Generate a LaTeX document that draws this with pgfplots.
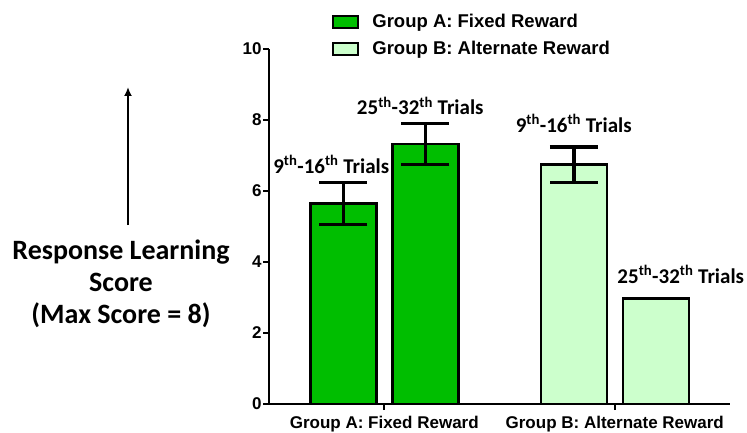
\documentclass[border=0pt]{standalone}
\usepackage{fontspec}
\setmainfont{Liberation Sans}
\newfontfamily\calfont{Carlito}
\usepackage{pgfplots}
\pgfplotsset{compat=1.18}
\usetikzlibrary{arrows.meta}
\definecolor{darkg}{RGB}{0,190,0}
\definecolor{lightg}{RGB}{204,255,204}
\begin{document}
\begin{tikzpicture}
\path[use as bounding box] (0,0) rectangle (747pt,432pt);
\begin{axis}[
  at={(269pt,28pt)}, anchor=south west,
  scale only axis, width=461pt, height=355pt,
  xmin=0.5, xmax=2.5, ymin=0, ymax=10,
  axis lines*=left,
  axis line style={line width=2pt},
  every tick/.style={black, line width=2pt},
  ytick={0,2,4,6,8,10},
  xtick={1,2},
  xticklabels={Group A: Fixed Reward, Group B: Alternate Reward},
  tick align=outside,
  major tick length=6pt,
  /pgf/number format/assume math mode=true,
  tick label style={font=\bfseries\fontsize{17}{17}\selectfont},
  yticklabel style={xshift=2pt},
  xticklabel style={yshift=-3pt},
  ybar, bar width=66pt,
  legend style={at={(0.13,1.11)}, anchor=north west, draw=none, fill=none,
    font=\bfseries\fontsize{18.5}{18.5}\selectfont, row sep=8pt,
    legend cell align=left},
  legend image code/.code={\draw[#1, line width=2pt] (0pt,-6pt) rectangle (25pt,6pt); \path (36pt,0pt);},
  clip=false,
]
\addplot[fill=darkg, draw=black, line width=2.5pt, bar shift=-41pt,
  error bars/.cd, y dir=both, y explicit,
  error bar style={line width=3.5pt, black},
  error mark options={rotate=90, line width=3.5pt, mark size=24pt, black}]
  coordinates {(1,5.65) +- (0,0.59)};
\addlegendentry{Group A: Fixed Reward}
\addplot[fill=lightg, draw=black, line width=2.5pt, bar shift=-41pt,
  error bars/.cd, y dir=both, y explicit,
  error bar style={line width=3.5pt, black},
  error mark options={rotate=90, line width=3.5pt, mark size=24pt, black}]
  coordinates {(2,6.74) +- (0,0.5)};
\addlegendentry{Group B: Alternate Reward}
\addplot[forget plot, fill=darkg, draw=black, line width=2.5pt, bar shift=41pt,
  error bars/.cd, y dir=both, y explicit,
  error bar style={line width=3.5pt, black},
  error mark options={rotate=90, line width=3.5pt, mark size=24pt, black}]
  coordinates {(1,7.32) +- (0,0.58)};
\addplot[forget plot, fill=lightg, draw=black, line width=2.5pt, bar shift=41pt]
  coordinates {(2,2.97)};
\node[anchor=base, font=\calfont\bfseries\fontsize{21}{21}\selectfont] at (axis cs:1,6.5) [xshift=-53pt] {9\textsuperscript{th}-16\textsuperscript{th} Trials};
\node[anchor=base, font=\calfont\bfseries\fontsize{21}{21}\selectfont] at (axis cs:1,8.15) [xshift=36pt] {25\textsuperscript{th}-32\textsuperscript{th} Trials};
\node[anchor=base, font=\calfont\bfseries\fontsize{21}{21}\selectfont] at (axis cs:2,7.65) [xshift=-41pt] {9\textsuperscript{th}-16\textsuperscript{th} Trials};
\node[anchor=base, font=\calfont\bfseries\fontsize{21}{21}\selectfont] at (axis cs:2,3.4) [xshift=66pt] {25\textsuperscript{th}-32\textsuperscript{th} Trials};
\end{axis}
\draw[line width=2pt, -{Latex[length=9pt,width=8pt]}] (128pt,207pt) -- (128pt,345pt);
\node[align=center, anchor=base, font=\calfont\bfseries\fontsize{28}{32}\selectfont] at (121pt,109pt) {Response Learning\\Score\\(Max Score = 8)};
\end{tikzpicture}
\end{document}
